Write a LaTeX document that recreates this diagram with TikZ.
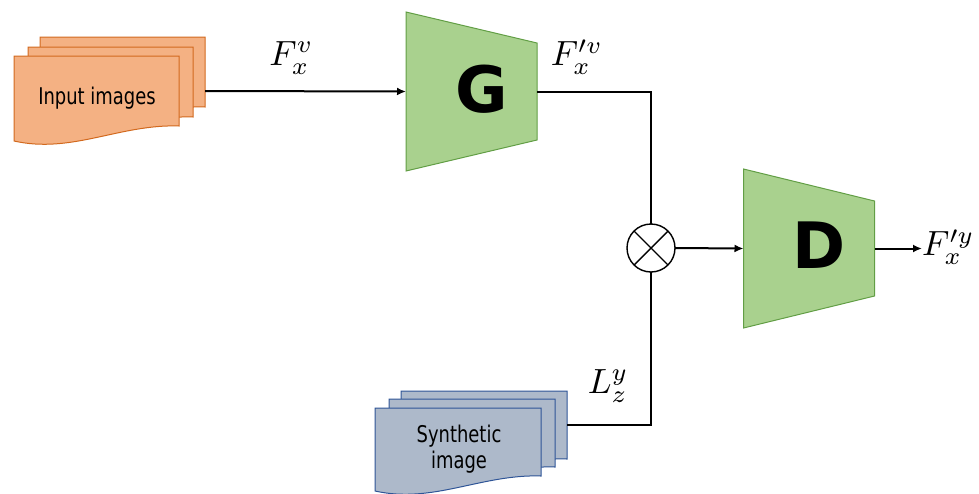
\documentclass[tikz,border=0pt]{standalone}
\usepackage{fontspec}
\newfontfamily\docfont{DejaVu Sans}[FakeStretch=0.78]
\newfontfamily\netfont{DejaVu Sans}
\usepackage{tikz}
\usetikzlibrary{positioning,arrows.meta,calc,backgrounds}
\definecolor{inpfill}{HTML}{F4B183}
\definecolor{inpline}{HTML}{D2691E}
\definecolor{synfill}{HTML}{ADB9CA}
\definecolor{synline}{HTML}{2F5597}
\definecolor{netfill}{HTML}{A9D18E}
\definecolor{netline}{HTML}{629E45}
\newcommand{\mlbl}[1]{\scalebox{3.5}{$#1$}}
% one sheet of a stack: style, x, y (top left), width, left height
\newcommand{\docsheet}[5]{%
  \begin{scope}[shift={(#2,#3)}]
    \draw[#1] (0,0) -- (#4,0) -- (#4,#5-15)
      .. controls ({0.64*#4},#5-17) and ({0.35*#4},#5+13) .. (0,#5) -- cycle;
  \end{scope}}

\begin{document}
\begin{tikzpicture}[x=1pt, y=-1pt,
  inpage/.style={draw=inpline, fill=inpfill, line width=1pt},
  synpage/.style={draw=synline, fill=synfill, line width=1pt},
  doctext/.style={font=\docfont\fontsize{23}{26}\selectfont, align=center, inner sep=0pt},
  net/.style={minimum width=131pt, minimum height=159pt, inner sep=0pt, outer sep=0pt},
  netshape/.style={draw=netline, fill=netfill, line width=1pt},
  netlbl/.style={font=\netfont\bfseries\fontsize{64}{64}\selectfont, inner sep=0pt},
  mixer/.style={circle, draw, line width=1.4pt, minimum size=48pt, inner sep=0pt, outer sep=0pt},
  lbl/.style={inner sep=0pt},
  wire/.style={draw=black, line width=2pt},
  arr/.style={-{Latex[length=9pt,width=8pt]}, draw=black, line width=2pt}]
\useasboundingbox (0,0) rectangle (979,493);

% input stack
\docsheet{inpage}{40}{37}{165}{85}
\docsheet{inpage}{28}{47}{165}{85}
\docsheet{inpage}{14}{56}{165}{85}
\node[doctext] (input) at (97,98) {Input images};
\coordinate (inout) at (205,91);

% synthetic stack
\docsheet{synpage}{401}{391}{166}{83}
\docsheet{synpage}{389}{399}{166}{83}
\docsheet{synpage}{375}{408}{166}{83}
\node[doctext] (synth) at (459,449) {Synthetic\\image};
\coordinate (synout) at (567,425);

% networks
\node[net] (gen) at (471.5,91.5) {};
\node[net] (disc) at (809,248.5) {};
\node[netlbl] (glbl) at ([xshift=10pt,yshift=2pt]gen.center) {G};
\node[netlbl] (dlbl) at ([xshift=10pt,yshift=3pt]disc.center) {D};
\begin{scope}[on background layer]
  \draw[netshape] (gen.north west) -- ([yshift=-31pt]gen.north east)
    -- ([yshift=31pt]gen.south east) -- (gen.south west) -- cycle;
  \draw[netshape] (disc.north west) -- ([yshift=-32pt]disc.north east)
    -- ([yshift=32pt]disc.south east) -- (disc.south west) -- cycle;
\end{scope}

% combination
\node[mixer] (mix) at (651,248) {};
\draw[line width=1.4pt] (mix.north west) -- (mix.south east) (mix.north east) -- (mix.south west);

\node[lbl, anchor=west] (out) at (922,247) {\mlbl{F^{\prime y}_{x}}};

\draw[arr] (inout) -- node[lbl, above=16pt, pos=0.43] (fv) {\mlbl{F^{v}_{x}}} (gen.west);
\draw[wire] (gen.east) -- node[lbl, above=16pt, pos=0.35] (fvp) {\mlbl{F^{\prime v}_{x}}} (gen.east -| mix.north) -- (mix.north);
\draw[wire] (synout) -- node[lbl, above=22pt, pos=0.49] (lzy) {\mlbl{L^{y}_{z}}} (synout -| mix.south) -- (mix.south);
\draw[arr] (mix.east) -- (disc.west);
\draw[arr] (disc.east) -- (disc.east -| out.west);
\end{tikzpicture}
\end{document}
